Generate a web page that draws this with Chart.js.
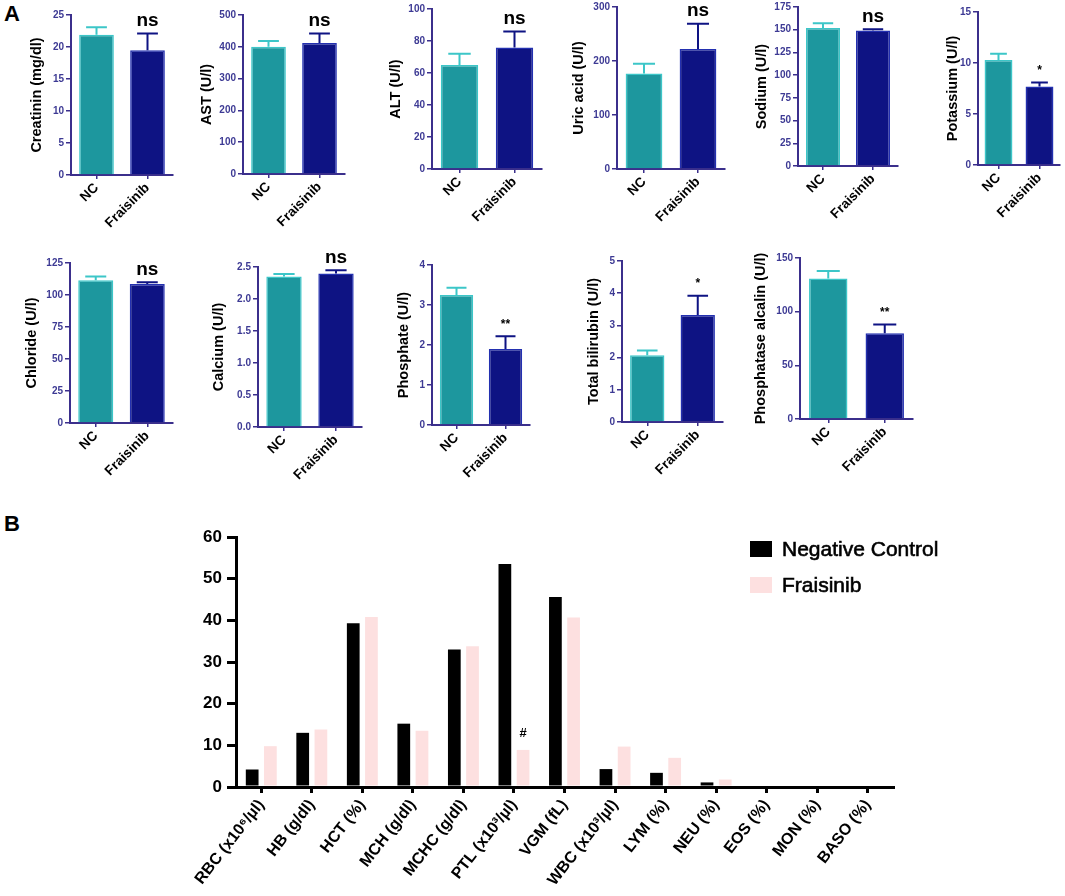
<!DOCTYPE html>
<html>
<head>
<meta charset="utf-8">
<script src="https://cdn.jsdelivr.net/npm/chart.js@4.4.1/dist/chart.umd.min.js"></script>
<style>
  html, body { margin: 0; padding: 0; background: #fff; }
  #page { position: relative; width: 1065px; height: 896px; overflow: hidden; font-family: "Liberation Sans", Arial, sans-serif; }
  #page canvas { position: absolute; }
  .tag { position: absolute; font-weight: bold; font-size: 22px; color: #000; }
</style>
</head>
<body>
<div id="page">
  <div class="tag" style="left:4px;top:1px">A</div>
  <div class="tag" style="left:4px;top:511px">B</div>
</div>
<script>
// ---- Panel A data: serum biochemistry, NC vs Fraisinib ----
const groupLabels = ['NC', 'Fraisinib'];
const paramTitles = ['Creatinin (mg/dl)', 'AST (U/l)', 'ALT (U/l)', 'Uric acid (U/l)', 'Sodium (U/l)', 'Potassium (U/l)',
                     'Chloride (U/l)', 'Calcium (U/l)', 'Phosphate (U/l)', 'Total bilirubin (U/l)', 'Phosphatase alcalin (U/l)'];
const ncMean = [21.9, 400, 65, 177, 152, 10.3, 111.5, 2.35, 3.25, 2.07, 131];
const ncErr  = [1.2, 18, 7, 18, 5, 0.6, 3, 0.04, 0.18, 0.15, 7];
const frMean = [19.5, 412, 76, 222, 149, 7.7, 108.5, 2.40, 1.9, 3.32, 80];
const frErr  = [2.6, 30, 10, 47, 1.5, 0.4, 1.5, 0.05, 0.32, 0.6, 8];
const axisMax  = [25, 500, 100, 300, 175, 15, 125, 2.5, 4, 5, 150];
const axisStep = [5, 100, 20, 100, 25, 5, 25, 0.5, 1, 1, 50];
const signif = ['ns', 'ns', 'ns', 'ns', 'ns', '*', 'ns', 'ns', '**', '*', '**'];

// ---- Panel B data: haematology ----
const hemaParams = ['RBC (x10⁶/µl)', 'HB (g/dl)', 'HCT (%)', 'MCH (g/dl)', 'MCHC (g/dl)', 'PTL (x10³/µl)', 'VGM (fL)',
                    'WBC (x10³/µl)', 'LYM (%)', 'NEU (%)', 'EOS (%)', 'MON (%)', 'BASO (%)'];
const negativeControl = [4.2, 13, 39.3, 15.2, 33, 53.5, 45.6, 4.3, 3.4, 1.1, 0, 0, 0];
const fraisinibHema   = [9.8, 13.8, 40.8, 13.5, 33.8, 8.9, 40.7, 9.7, 7.0, 1.8, 0, 0, 0];
const hemaMarks       = ['', '', '', '', '', '#', '', '', '', '', '', '', ''];

// page placement of each small plot (axis x, axis end, top tick y, zero y, title distance)
const boxes = [
  { x0: 71,  x1: 173,  yT: 15,  yB: 175, tOff: 34 },
  { x0: 243, x1: 345,  yT: 15,  yB: 174, tOff: 36 },
  { x0: 432, x1: 542,  yT: 9,   yB: 169, tOff: 36 },
  { x0: 617, x1: 725,  yT: 7,   yB: 169, tOff: 38 },
  { x0: 798, x1: 898,  yT: 7,   yB: 166, tOff: 36 },
  { x0: 978, x1: 1060, yT: 12,  yB: 165, tOff: 25 },
  { x0: 70,  x1: 173,  yT: 263, yB: 423, tOff: 38 },
  { x0: 258, x1: 362,  yT: 267, yB: 427, tOff: 39 },
  { x0: 432, x1: 530,  yT: 265, yB: 425, tOff: 28 },
  { x0: 622, x1: 723,  yT: 261, yB: 422, tOff: 28 },
  { x0: 800, x1: 913,  yT: 258, yB: 419, tOff: 39 }
];

Chart.defaults.font.family = '"Liberation Sans", Arial, sans-serif';
Chart.defaults.animation = false;

const page = document.getElementById('page');
const AXIS = '#3b2f8c';
const TEAL = '#1d979e', TEAL_EDGE = '#3cc6c8';
const NAVY = '#0e1383', NAVY_EDGE = '#2330b0';
const TITLE_SIZE = 14.5;

function addCanvas(left, top, w, h) {
  const c = document.createElement('canvas');
  c.width = w; c.height = h;
  c.style.left = left + 'px'; c.style.top = top + 'px';
  c.style.width = w + 'px'; c.style.height = h + 'px';
  page.appendChild(c);
  return c;
}

// error bars + significance text above the treated bar
const errorBarPlugin = {
  id: 'errorBars',
  afterDatasetsDraw(chart, args, opts) {
    const ctx = chart.ctx;
    const y = chart.scales.y;
    const bars = chart.getDatasetMeta(0).data;
    let fTop = 0;
    bars.forEach((bar, i) => {
      const top = y.getPixelForValue(opts.means[i] + opts.errors[i]);
      const half = bar.width * 0.3;
      ctx.save();
      ctx.strokeStyle = opts.colors[i];
      ctx.lineWidth = 2;
      ctx.beginPath();
      ctx.moveTo(bar.x, bar.y);
      ctx.lineTo(bar.x, top);
      ctx.moveTo(bar.x - half, top);
      ctx.lineTo(bar.x + half, top);
      ctx.stroke();
      ctx.restore();
      if (i === 1) fTop = top;
    });
    const mark = opts.mark;
    ctx.save();
    ctx.fillStyle = '#000';
    ctx.textAlign = 'center';
    ctx.textBaseline = 'bottom';
    ctx.font = mark === 'ns' ? 'bold 19px "Liberation Sans", Arial' : 'bold 12px "Liberation Sans", Arial';
    ctx.fillText(mark, bars[1].x, fTop - (mark === 'ns' ? 3 : 6));
    ctx.restore();
  }
};

const Y_W = 75, X_H = 55, PAD_T = 20, PAD_R = 8;

boxes.forEach((b, i) => {
  const w = (b.x1 - b.x0) + Y_W + PAD_R;
  const h = (b.yB - b.yT) + PAD_T + X_H;
  const canvas = addCanvas(b.x0 - Y_W, b.yT - PAD_T, w, h);
  const step = axisStep[i];
  new Chart(canvas.getContext('2d'), {
    type: 'bar',
    data: {
      labels: groupLabels,
      datasets: [{
        data: [ncMean[i], frMean[i]],
        backgroundColor: [TEAL, NAVY],
        borderColor: [TEAL_EDGE, NAVY_EDGE],
        borderWidth: 1.5,
        barPercentage: 0.68,
        categoryPercentage: 1
      }]
    },
    options: {
      responsive: false,
      layout: { padding: { top: PAD_T, right: PAD_R, left: 0, bottom: 0 } },
      plugins: {
        legend: { display: false },
        tooltip: { enabled: false },
        errorBars: {
          means: [ncMean[i], frMean[i]],
          errors: [ncErr[i], frErr[i]],
          colors: [TEAL_EDGE, NAVY],
          mark: signif[i]
        }
      },
      scales: {
        x: {
          afterFit: s => { s.height = X_H; },
          border: { color: AXIS, width: 2 },
          grid: { drawOnChartArea: false, offset: false, tickLength: 4, color: AXIS, lineWidth: 1.5 },
          ticks: {
            color: '#000', minRotation: 45, maxRotation: 45, padding: 1,
            font: { size: 13.5, weight: 'bold' }
          }
        },
        y: {
          min: 0, max: axisMax[i],
          afterFit: s => { s.width = Y_W; },
          border: { color: AXIS, width: 2 },
          grid: { drawOnChartArea: false, tickLength: 5, color: AXIS, lineWidth: 1.5 },
          ticks: {
            stepSize: step, color: '#3d3a94', padding: 2,
            font: { size: 10, weight: 'bold' },
            callback: v => step < 1 ? Number(v).toFixed(1) : v
          },
          title: {
            display: true, text: paramTitles[i], color: '#000',
            font: { size: TITLE_SIZE, weight: 'bold' },
            padding: { top: Y_W - b.tOff - TITLE_SIZE * 0.6, bottom: 0 }
          }
        }
      }
    },
    plugins: [errorBarPlugin]
  });
});

// ---- Panel B ----
const hemaMarkPlugin = {
  id: 'hemaMarks',
  afterDatasetsDraw(chart, args, opts) {
    const ctx = chart.ctx;
    const bars = chart.getDatasetMeta(1).data;
    ctx.save();
    ctx.fillStyle = '#000';
    ctx.textAlign = 'center';
    ctx.textBaseline = 'bottom';
    ctx.font = 'bold 13px "Liberation Sans", Arial';
    opts.marks.forEach((m, i) => {
      if (m) ctx.fillText(m, bars[i].x, bars[i].y - 10);
    });
    ctx.restore();
  }
};

const cornerLegend = {
  id: 'cornerLegend',
  afterDraw(chart, args, opts) {
    const ctx = chart.ctx;
    ctx.save();
    chart.data.datasets.forEach((ds, i) => {
      const y = opts.top + i * opts.rowGap;
      ctx.fillStyle = ds.backgroundColor;
      ctx.fillRect(opts.left, y, opts.boxW, opts.boxH);
      ctx.fillStyle = '#000';
      ctx.strokeStyle = '#000';
      ctx.lineWidth = 0.6;
      ctx.font = '21px "Liberation Sans", Arial';
      ctx.textBaseline = 'middle';
      ctx.fillText(ds.label, opts.left + opts.boxW + 10, y + opts.boxH / 2 + 1);
      ctx.strokeText(ds.label, opts.left + opts.boxW + 10, y + opts.boxH / 2 + 1);
    });
    ctx.restore();
  }
};

const B_LEFT = 171, B_TOP = 520;
const bCanvas = addCanvas(B_LEFT, B_TOP, 799, 376);
new Chart(bCanvas.getContext('2d'), {
  type: 'bar',
  data: {
    labels: hemaParams,
    datasets: [
      { label: 'Negative Control', data: negativeControl, backgroundColor: '#000000',
        barPercentage: 0.7, categoryPercentage: 0.72 },
      { label: 'Fraisinib', data: fraisinibHema, backgroundColor: '#fde0e0',
        barPercentage: 0.7, categoryPercentage: 0.72 }
    ]
  },
  options: {
    responsive: false,
    layout: { padding: { top: 17, right: 77, left: 0, bottom: 0 } },
    plugins: {
      legend: { display: false },
      tooltip: { enabled: false },
      hemaMarks: { marks: hemaMarks },
      cornerLegend: { left: 579, top: 21, boxW: 22, boxH: 16, rowGap: 36 }
    },
    scales: {
      x: {
        afterFit: s => { s.height = 109; },
        border: { color: '#000', width: 3 },
        grid: { drawOnChartArea: false, offset: false, tickLength: 6, color: '#000', lineWidth: 3 },
        ticks: {
          color: '#000', minRotation: 52, maxRotation: 52, padding: 3,
          font: { size: 16, weight: 'bold' }
        }
      },
      y: {
        min: 0, max: 60,
        afterFit: s => { s.width = 65; },
        border: { color: '#000', width: 3 },
        grid: { drawOnChartArea: false, tickLength: 9, color: '#000', lineWidth: 3 },
        ticks: {
          stepSize: 5, color: '#000', padding: 5,
          font: { size: 17, weight: 'bold' },
          callback: v => v % 10 === 0 ? v : ''
        }
      }
    }
  },
  plugins: [hemaMarkPlugin, cornerLegend]
});
</script>
</body>
</html>
